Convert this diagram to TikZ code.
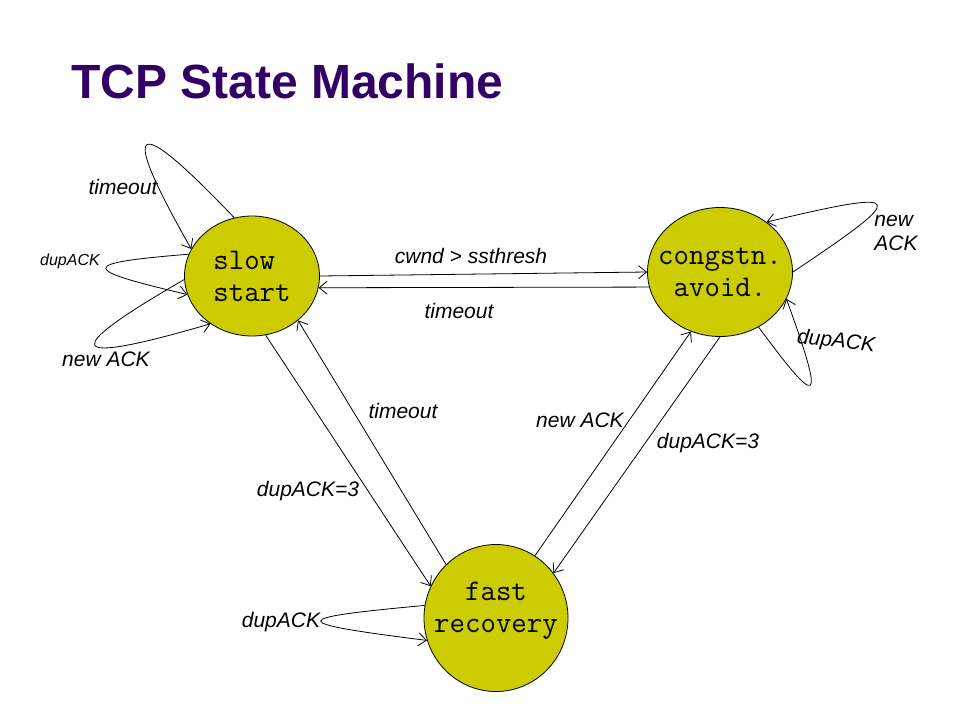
\documentclass[tikz,border=0pt]{standalone}
\usepackage{fontspec}
\setmainfont{Liberation Sans}
\usetikzlibrary{arrows.meta,shapes.geometric}
\newlength{\du}
\setlength{\du}{1pt}
\definecolor{statefill}{rgb}{0.800000, 0.800000, 0.000000}
\definecolor{titlecolor}{rgb}{0.200000, 0.000000, 0.400000}
\tikzset{
  statenode/.style={ellipse, draw=black, line width=0.8\du, fill=statefill, inner sep=0pt},
  statetext/.style={font=\fontsize{30}{32}\selectfont\ttfamily, align=center, inner sep=0pt},
  edgelabel/.style={font=\fontsize{21}{24}\selectfont\itshape, inner sep=0pt},
  trans/.style={line width=0.8\du, -{Straight Barb[length=8pt,width=13pt]}},
}

\begin{document}
\begin{tikzpicture}
\pgftransformxscale{1.000000}
\pgftransformyscale{-1.000000}
\useasboundingbox (0\du,0\du) rectangle (960\du,720\du);
% title
\node[anchor=base west, inner sep=0pt, text=titlecolor, font=\fontsize{48}{56}\selectfont\bfseries] (title) at (71\du,98\du) {TCP State Machine};
% states
\node[statenode, minimum width=135\du, minimum height=120\du, label={[statetext, align=left]center:{slow\\start}}] (ss) at (252\du,276\du) {};
\node[statenode, minimum width=145\du, minimum height=129\du, label={[statetext]center:{congstn.\\avoid.}}] (ca) at (720\du,272\du) {};
\node[statenode, minimum width=144\du, minimum height=147\du, label={[statetext, yshift=7\du]center:{fast\\recovery}}] (fr) at (496\du,618\du) {};
% transitions between states
\draw[trans] (ss.0) -- (ca.180);
\draw[trans] (ca.192) -- (ss.-10);
\draw[trans] (ss.-77) -- (fr.154);
\draw[trans] (fr.133) -- (ss.-44);
\draw[trans] (fr.58) -- (ca.-116);
\draw[trans] (ca.-90) -- (fr.38);
% self loops
\draw[trans] (ss.107) .. controls (131.8\du,110.2\du) and (118.2\du,120.7\du) .. (ss.156);
\draw[trans] (ss.161) .. controls (79.0\du,263.2\du) and (78.2\du,268.9\du) .. (ss.196);
\draw[trans] (ss.183) .. controls (58.8\du,352.0\du) and (62.7\du,367.0\du) .. (ss.229);
\draw[trans] (ca.0) .. controls (910.0\du,193.7\du) and (909.1\du,188.1\du) .. (ca.47);
\draw[trans] (ca.-55) .. controls (819.0\du,408.7\du) and (826.3\du,409.5\du) .. (ca.-22);
\draw[trans] (fr.170) .. controls (286.4\du,618.2\du) and (285.4\du,622.6\du) .. (fr.198);
% labels
\node[edgelabel] (ssto) at (123\du,187\du) {timeout};
\node[edgelabel, font=\fontsize{16}{18}\selectfont\itshape] (ssdup) at (70\du,261\du) {dupACK};
\node[edgelabel] (ssnew) at (106\du,359\du) {new ACK};
\node[edgelabel] (cwnd) at (471\du,256\du) {cwnd > ssthresh};
\node[edgelabel] (cato) at (459\du,311\du) {timeout};
\node[edgelabel] (frto) at (403\du,411\du) {timeout};
\node[edgelabel] (ssdup3) at (308\du,491\du) {dupACK=3};
\node[edgelabel] (frnew) at (580\du,420\du) {new ACK};
\node[edgelabel] (cadup3) at (708\du,443\du) {dupACK=3};
\node[edgelabel, align=left] (canew) at (896\du,233\du) {new\\ ACK};
\node[edgelabel, rotate=-6] (cadup) at (836\du,342\du) {dupACK};
\node[edgelabel] (frdup) at (281\du,622\du) {dupACK};
\end{tikzpicture}
\end{document}
